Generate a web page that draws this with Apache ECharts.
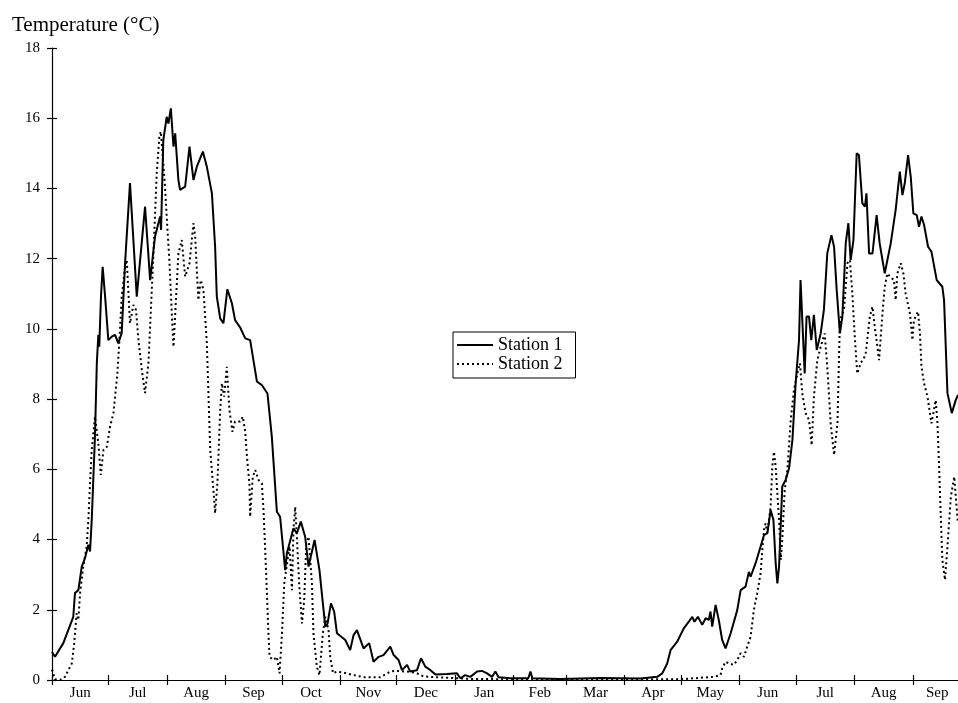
<!DOCTYPE html>
<html>
<head>
<meta charset="utf-8">
<script src="https://cdn.jsdelivr.net/npm/echarts@6/dist/echarts.min.js"></script>
<style>
html, body { margin: 0; padding: 0; background: #fff; }
#main { width: 958px; height: 703px; }
</style>
</head>
<body>
<div id="main"></div>
<script>
// x = days since 1 June (year 1)
var monthStarts = [0, 30, 61, 92, 122, 153, 183, 214, 245, 273, 304, 334, 365, 395, 426, 457];
var labelDays = [15, 45.5, 76.5, 107, 137.5, 168, 198.5, 229.5, 259, 288.5, 319, 349.5, 380, 410.5, 441.5, 470];
var labelNames = ['Jun', 'Jul', 'Aug', 'Sep', 'Oct', 'Nov', 'Dec', 'Jan', 'Feb', 'Mar', 'Apr', 'May', 'Jun', 'Jul', 'Aug', 'Sep'];

var s1Days = [0, 1.6, 6.0, 11.3, 12.2, 14.0, 15.8, 17.5, 19.3, 20.2,
    21.1, 22.8, 23.8, 24.6, 25.1, 26.0, 26.9, 28.2, 29.9, 31.7,
    33.5, 35.2, 37.0, 38.8, 41.4, 45.0, 49.4, 52.1, 54.7, 57.4,
    57.9, 59.1, 60.9, 61.8, 63.1, 64.5, 65.4, 67.1, 68.0, 70.7,
    73.0, 75.1, 76.9, 80.1, 82.2, 84.9, 86.6, 87.5, 89.3, 91.0,
    93.1, 95.5, 97.2, 99.9, 102.6, 105.2, 108.8, 111.4, 114.4, 116.7,
    119.4, 121.1, 123.8, 124.7, 128.2, 130.0, 132.1, 134.4, 136.2, 139.4,
    142.0, 143.8, 145.1, 146.3, 148.1, 149.8, 151.3, 155.7, 158.3, 160.1,
    161.9, 165.4, 168.4, 170.7, 173.4, 176.0, 179.6, 181.4, 184.0, 185.8,
    188.5, 190.2, 193.8, 195.9, 198.2, 200.9, 203.5, 209.7, 215.0, 216.8,
    219.4, 222.1, 225.7, 228.3, 231.0, 233.6, 235.4, 237.1, 243.4, 252.9,
    254.0, 255.0, 269.9, 291.2, 312.4, 321.3, 324.0, 326.6, 328.4, 331.9,
    335.4, 338.1, 339.9, 341.1, 342.9, 345.2, 347.0, 348.7, 349.6, 350.5,
    352.3, 354.0, 355.8, 357.6, 360.3, 363.8, 365.6, 368.2, 370.0, 370.9,
    373.5, 376.2, 378.0, 379.8, 381.5, 383.0, 384.2, 385.1, 386.0, 387.7,
    389.5, 391.3, 393.1, 394.8, 396.6, 397.4, 398.3, 399.6, 400.6, 401.9,
    403.1, 404.5, 406.0, 408.1, 409.8, 411.6, 413.8, 415.2, 416.6, 418.3,
    419.6, 421.4, 422.8, 424.0, 425.5, 427.2, 428.4, 430.2, 431.6, 432.4,
    433.8, 435.6, 437.8, 439.4, 442.1, 445.3, 447.9, 450.1, 451.5, 452.7,
    454.5, 455.9, 457.3, 459.1, 460.3, 461.6, 463.0, 465.1, 466.9, 469.7,
    472.7, 473.6, 475.4, 477.7, 479.8, 481];
var s1Temps = [0.80, 0.66, 1.05, 1.80, 2.48, 2.56, 3.23, 3.47, 3.85, 3.66,
    4.56, 6.93, 9.03, 9.83, 9.49, 10.92, 11.77, 10.92, 9.68, 9.78,
    9.83, 9.59, 9.88, 11.88, 14.15, 10.92, 13.48, 11.39, 12.63, 13.2,
    12.82, 15.38, 16.04, 15.85, 16.28, 15.19, 15.57, 14.24, 13.96, 14.05,
    15.19, 14.24, 14.62, 15.05, 14.62, 13.86, 12.34, 10.92, 10.30, 10.16,
    11.13, 10.73, 10.25, 10.04, 9.73, 9.68, 8.50, 8.40, 8.16, 6.93,
    4.79, 4.65, 3.13, 3.61, 4.32, 4.18, 4.51, 4.08, 3.23, 3.99,
    3.13, 2.18, 1.52, 1.61, 2.18, 1.95, 1.33, 1.14, 0.85, 1.28,
    1.42, 0.90, 1.05, 0.52, 0.66, 0.71, 0.95, 0.71, 0.57, 0.28,
    0.43, 0.24, 0.28, 0.62, 0.38, 0.28, 0.16, 0.17, 0.19, 0.05,
    0.14, 0.09, 0.24, 0.26, 0.19, 0.09, 0.24, 0.08, 0.05, 0.05,
    0.24, 0.05, 0.03, 0.06, 0.04, 0.09, 0.19, 0.47, 0.85, 1.09,
    1.47, 1.66, 1.80, 1.66, 1.80, 1.57, 1.76, 1.71, 1.95, 1.52,
    2.14, 1.71, 1.14, 0.90, 1.33, 1.99, 2.56, 2.66, 3.08, 2.94,
    3.32, 3.80, 4.13, 4.18, 4.84, 4.56, 3.32, 2.75, 3.23, 5.51,
    5.70, 6.03, 6.84, 8.45, 9.68, 11.39, 11.39, 8.73, 10.35, 10.35,
    9.68, 10.40, 9.40, 9.87, 10.54, 12.15, 12.67, 12.34, 11.11, 9.87,
    10.35, 12.44, 13.01, 11.96, 12.53, 15.0, 14.95, 13.58, 13.48, 13.86,
    12.15, 12.15, 13.24, 12.44, 11.58, 12.44, 13.39, 14.48, 13.81, 14.14,
    14.95, 14.34, 13.29, 13.24, 12.91, 13.20, 12.96, 12.34, 12.20, 11.39,
    11.20, 10.82, 8.17, 7.60, 7.97, 8.12];

var s2Days = [0, 1.6, 4.3, 6.9, 10.5, 11.8, 13.1, 14.0, 14.9, 16.6,
    18.4, 19.3, 20.2, 21.1, 22.8, 24.6, 25.9, 27.3, 29.1, 30.8,
    32.6, 34.7, 35.8, 37.0, 38.8, 39.7, 41.4, 43.2, 44.6, 45.9,
    47.7, 49.4, 51.2, 52.4, 53.8, 55.6, 57.0, 57.8, 58.8, 60.0,
    61.3, 62.3, 63.6, 64.5, 65.9, 67.1, 68.9, 70.7, 73.0, 75.1,
    76.0, 77.7, 79.0, 80.4, 82.2, 84.0, 85.7, 86.6, 87.8, 89.3,
    90.2, 91.4, 92.8, 94.2, 95.8, 97.2, 99.9, 101.3, 102.6, 103.5,
    104.8, 105.2, 106.6, 107.9, 109.6, 111.4, 112.3, 113.7, 114.9, 115.5,
    117.6, 119.4, 120.8, 122.1, 123.3, 124.3, 126.1, 127.4, 128.2, 129.1,
    130.0, 131.2, 132.7, 133.9, 135.0, 136.2, 138.0, 138.8, 140.6, 142.0,
    143.8, 145.1, 146.8, 147.7, 149.2, 151.3, 154.8, 160.1, 165.4, 174.3,
    179.6, 182.3, 188.5, 193.4, 197.3, 207.9, 222.1, 248.7, 291.2, 333.7,
    351.2, 354.9, 355.8, 357.6, 359.4, 362.0, 363.8, 365.6, 367.4, 369.1,
    370.9, 372.6, 374.4, 376.2, 377.1, 378.0, 378.8, 379.8, 381.5, 382.4,
    383.3, 384.2, 385.1, 386.0, 386.9, 387.7, 389.0, 390.4, 392.2, 393.9,
    395.7, 397.1, 398.3, 400.1, 401.9, 403.3, 404.5, 406.3, 408.1, 410.2,
    411.6, 413.4, 415.2, 417.0, 418.3, 420.5, 422.3, 423.6, 424.9, 426.1,
    427.5, 429.3, 431.9, 434.2, 435.6, 436.8, 438.2, 439.1, 440.9, 442.1,
    443.5, 444.9, 447.0, 447.9, 448.8, 450.6, 452.0, 453.2, 455.5, 456.8,
    457.6, 459.8, 460.8, 461.6, 463.0, 464.8, 466.9, 469.2, 470.1, 470.9,
    471.8, 472.7, 474.1, 475.4, 477.2, 479.0, 480.8, 481];
var s2Temps = [0.30, 0.02, 0.0, 0.09, 0.47, 1.05, 1.90, 1.71, 2.47, 3.23,
    3.80, 4.56, 5.60, 6.55, 7.50, 6.74, 5.84, 6.55, 6.64, 7.21,
    7.60, 8.73, 9.68, 10.92, 11.77, 11.96, 10.16, 10.68, 10.54, 9.68,
    8.83, 8.17, 9.02, 10.44, 12.06, 14.43, 15.48, 15.62, 14.91, 14.05,
    12.82, 11.96, 10.44, 9.49, 10.92, 12.15, 12.53, 11.49, 11.87, 13.01,
    12.63, 10.82, 11.39, 11.11, 9.59, 6.55, 5.41, 4.75, 5.60, 7.69,
    8.45, 8.07, 8.92, 7.69, 7.07, 7.36, 7.36, 7.50, 7.07, 6.36,
    5.60, 4.65, 5.79, 5.98, 5.70, 5.60, 4.84, 3.04, 1.33, 0.66,
    0.57, 0.66, 0.19, 1.33, 2.75, 3.13, 3.80, 2.56, 4.27, 4.93,
    4.08, 2.75, 1.61, 2.28, 3.89, 4.08, 2.75, 1.33, 0.38, 0.14,
    1.33, 1.80, 1.42, 0.66, 0.19, 0.24, 0.21, 0.14, 0.08, 0.08,
    0.24, 0.26, 0.24, 0.20, 0.10, 0.07, 0.03, 0.02, 0.02, 0.02,
    0.09, 0.14, 0.33, 0.52, 0.47, 0.43, 0.57, 0.76, 0.66, 0.95,
    1.23, 1.99, 2.47, 3.04, 3.70, 4.27, 4.46, 4.18, 4.93, 6.08,
    6.50, 6.08, 5.30, 4.56, 3.42, 3.99, 5.41, 5.98, 7.41, 8.26,
    8.73, 9.02, 8.17, 7.60, 7.41, 6.69, 8.07, 9.11, 9.49, 9.87,
    8.92, 7.31, 6.41, 7.31, 10.25, 10.54, 11.87, 11.96, 11.01, 9.87,
    8.73, 9.02, 9.25, 10.35, 10.63, 10.06, 9.49, 9.11, 10.44, 11.20,
    11.58, 11.49, 11.39, 10.82, 11.58, 11.87, 11.58, 11.01, 10.44, 9.68,
    10.25, 10.49, 9.87, 8.92, 8.45, 8.07, 7.31, 7.97, 7.31, 6.17,
    4.75, 3.42, 2.85, 3.80, 5.22, 5.79, 4.56, 4.50];

var FONT = '"Liberation Serif", "Times New Roman", serif';

function pairs(xs, ys) {
    return xs.map(function (x, i) { return [x, ys[i]]; });
}

var chart = echarts.init(document.getElementById('main'));
var option = {
    animation: false,
    backgroundColor: '#fff',
    title: {
        text: 'Temperature (°C)',
        left: 7,
        top: 10,
        textStyle: { fontFamily: FONT, fontSize: 21, fontWeight: 'normal', color: '#000' }
    },
    legend: {
        orient: 'vertical',
        left: 453,
        top: 332,
        borderColor: '#000',
        borderWidth: 1,
        borderRadius: 0,
        padding: [4, 13, 5, 3],
        itemGap: 1,
        itemWidth: 36,
        itemHeight: 14,
        // hide the marker dot, keep only the line sample
        itemStyle: { color: 'rgba(0,0,0,0)', borderColor: 'rgba(0,0,0,0)', borderWidth: 0, opacity: 0 },
        textStyle: { fontFamily: FONT, fontSize: 18, color: '#000' },
        data: ['Station 1', 'Station 2']
    },
    grid: { left: 52, right: 0, top: 48, bottom: 23 },
    xAxis: [{
        type: 'value',
        min: 0,
        max: 481,
        axisLine: { lineStyle: { color: '#000', width: 1.2 } },
        axisTick: { length: 5, customValues: monthStarts, lineStyle: { color: '#000', width: 1.2 } },
        axisLabel: {
            customValues: labelDays,
            margin: 6,
            fontFamily: FONT,
            fontSize: 15,
            color: '#000',
            formatter: function (v) { return labelNames[labelDays.indexOf(v)]; }
        },
        splitLine: { show: false }
    }, {
        type: 'value',
        min: 0,
        max: 481,
        position: 'bottom',
        axisLine: { show: false },
        axisTick: { inside: true, length: 5, customValues: monthStarts, lineStyle: { color: '#000', width: 1.2 } },
        axisLabel: { show: false },
        splitLine: { show: false }
    }],
    yAxis: [{
        type: 'value',
        min: 0,
        max: 18,
        interval: 2,
        axisLine: { show: true, lineStyle: { color: '#000', width: 1.2 } },
        axisTick: { show: true, length: 5, lineStyle: { color: '#000', width: 1.2 } },
        axisLabel: { margin: 12, fontFamily: FONT, fontSize: 15, color: '#000' },
        splitLine: { show: false }
    }, {
        type: 'value',
        min: 0,
        max: 18,
        interval: 2,
        position: 'left',
        axisLine: { show: false },
        axisTick: { show: true, inside: true, length: 5, lineStyle: { color: '#000', width: 1.2 } },
        axisLabel: { show: false },
        splitLine: { show: false }
    }],
    series: [{
        name: 'Station 1',
        type: 'line',
        symbol: 'none',
        data: pairs(s1Days, s1Temps),
        lineStyle: { color: '#000', width: 2 },
        itemStyle: { color: '#000' }
    }, {
        name: 'Station 2',
        type: 'line',
        symbol: 'none',
        data: pairs(s2Days, s2Temps),
        lineStyle: { color: '#000', width: 2, type: [2, 3] },
        itemStyle: { color: '#000' }
    }]
};
chart.setOption(option);
</script>
</body>
</html>
